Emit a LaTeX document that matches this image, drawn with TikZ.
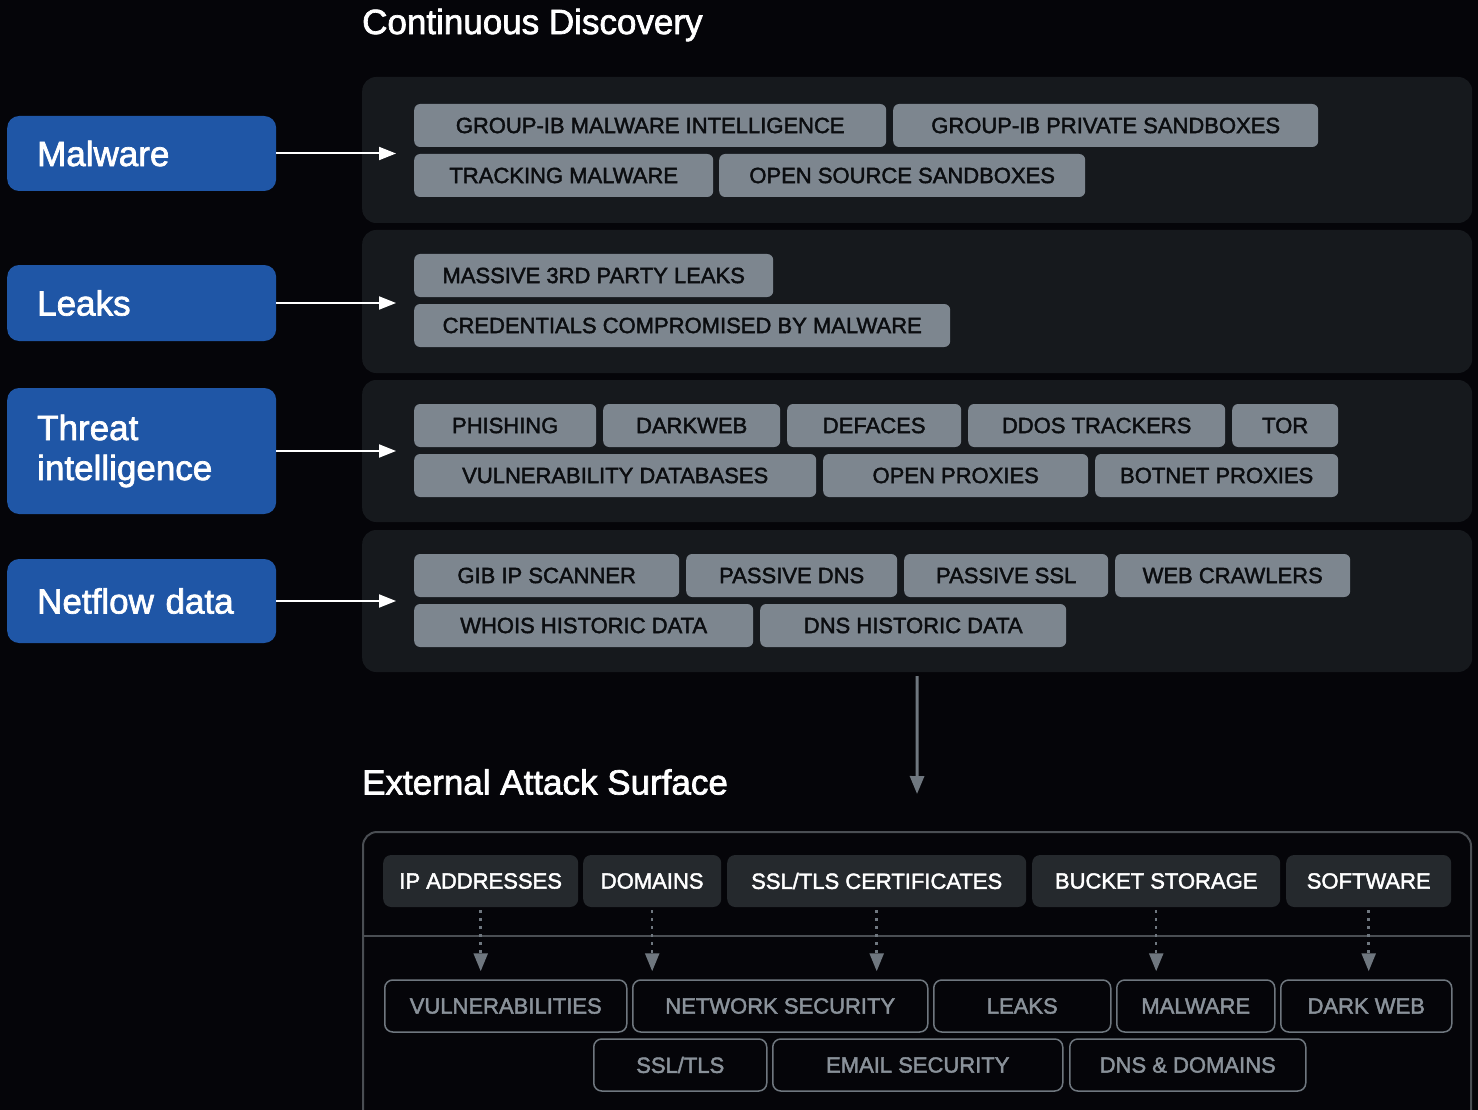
\documentclass[tikz,border=0pt]{standalone}
\usepackage{fontspec}
\setmainfont{Liberation Sans}
\newfontfamily\medium{Liberation Sans}[FakeBold=2]
\usetikzlibrary{arrows.meta}
\definecolor{bgdark}{HTML}{050509}
\definecolor{panelgray}{HTML}{16191D}
\definecolor{gibblue}{HTML}{1F56A6}
\definecolor{taggray}{HTML}{7D868F}
\definecolor{tagtext}{HTML}{0B0D10}
\definecolor{darktag}{HTML}{25292D}
\definecolor{edgegray}{HTML}{4A4E53}
\definecolor{linegray}{HTML}{6F777F}
\definecolor{softtext}{HTML}{8A929A}

\begin{document}
\begin{tikzpicture}[x=1pt, y=-1pt,
  title/.style={anchor=west, inner sep=0pt, text=white, font=\medium\fontsize{35}{40}\selectfont},
  src/.style={fill=gibblue, rounded corners=12pt, anchor=west, text width=209pt, inner xsep=30pt, inner ysep=0pt, align=left, text=white, font=\medium\fontsize{35}{40}\selectfont},
  panel/.style={fill=panelgray, rounded corners=14pt, anchor=west, minimum width=1110pt, inner sep=0pt},
  tag/.style={fill=taggray, rounded corners=6pt, anchor=west, minimum height=43pt, inner sep=0pt, text=tagtext, font=\medium\fontsize{22}{26}\selectfont},
  asset/.style={fill=darktag, rounded corners=8pt, anchor=west, minimum height=52pt, inner sep=0pt, text=white, font=\medium\fontsize{22}{26}\selectfont},
  risk/.style={draw=linegray, line width=1.5pt, rounded corners=8pt, anchor=west, minimum height=52pt, inner sep=0pt, text=softtext, font=\medium\fontsize{22}{26}\selectfont},
  feed/.style={draw=white, line width=2pt, -{Triangle[width=13pt, length=17pt]}},
  maps/.style={draw=linegray, line width=2.5pt, dash pattern=on 2.5pt off 5.5pt, -{Triangle[width=14pt, length=18pt]}}]
  \useasboundingbox (0,0) rectangle (1478,1110);
  \fill[bgdark] (0,0) rectangle (1478,1110);

  % continuous discovery
  \node[title] (cdtitle) at (362,25) {Continuous Discovery};
  \node[panel, minimum height=146pt] (p1) at (362,150) {};
  \node[panel, minimum height=143pt] (p2) at (362,301.5) {};
  \node[panel, minimum height=142pt] (p3) at (362,451) {};
  \node[panel, minimum height=142pt] (p4) at (362,601) {};

  \node[src, minimum height=75pt] (malware) at (7,153.5) {Malware};
  \node[src, minimum height=76pt] (leaks) at (7,303) {Leaks};
  \node[src, minimum height=126pt] (threat) at (7,451) {\raisebox{-4pt}{Threat}\\\raisebox{-4pt}{intelligence}};
  \node[src, minimum height=84pt] (netflow) at (7,601) {Netflow data};

  \node[tag, minimum width=472pt] (gmi) at (414,125.5) {GROUP-IB MALWARE INTELLIGENCE};
  \node[tag, minimum width=425pt] (gps) at (893,125.5) {GROUP-IB PRIVATE SANDBOXES};
  \node[tag, minimum width=299pt] (trk) at (414,175.5) {TRACKING MALWARE};
  \node[tag, minimum width=366pt] (oss) at (719,175.5) {OPEN SOURCE SANDBOXES};

  \node[tag, minimum width=359pt] (m3p) at (414,275.5) {MASSIVE 3RD PARTY LEAKS};
  \node[tag, minimum width=536pt] (ccm) at (414,325.5) {CREDENTIALS COMPROMISED BY MALWARE};

  \node[tag, minimum width=182pt] (phi) at (414,425.5) {PHISHING};
  \node[tag, minimum width=177pt] (dkw) at (603,425.5) {DARKWEB};
  \node[tag, minimum width=174pt] (dfc) at (787,425.5) {DEFACES};
  \node[tag, minimum width=257pt] (ddos) at (968,425.5) {DDOS TRACKERS};
  \node[tag, minimum width=106pt] (tor) at (1232,425.5) {TOR};
  \node[tag, minimum width=402pt] (vdb) at (414,475.5) {VULNERABILITY DATABASES};
  \node[tag, minimum width=265pt] (opx) at (823,475.5) {OPEN PROXIES};
  \node[tag, minimum width=243pt] (bpx) at (1095,475.5) {BOTNET PROXIES};

  \node[tag, minimum width=265pt] (gib) at (414,575.5) {GIB IP SCANNER};
  \node[tag, minimum width=211pt] (pdns) at (686,575.5) {PASSIVE DNS};
  \node[tag, minimum width=204pt] (pssl) at (904,575.5) {PASSIVE SSL};
  \node[tag, minimum width=235pt] (webc) at (1115,575.5) {WEB CRAWLERS};
  \node[tag, minimum width=339pt] (whois) at (414,625.5) {WHOIS HISTORIC DATA};
  \node[tag, minimum width=306pt] (dnsh) at (760,625.5) {DNS HISTORIC DATA};

  \draw[feed, shorten >=18pt] (malware) -- (malware -| gmi.west);
  \draw[feed, shorten >=18pt] (leaks) -- (leaks -| m3p.west);
  \draw[feed, shorten >=18pt] (threat) -- (threat -| phi.west);
  \draw[feed, shorten >=18pt] (netflow) -- (netflow -| gib.west);

  % external attack surface
  \node[title] (eastitle) at (362,782) {External Attack Surface};
  \node[draw=edgegray, line width=2pt, rounded corners=14pt, minimum width=1108pt, minimum height=330pt, anchor=north, inner sep=0pt] (eas) at (917,831) {};
  \coordinate (div) at (0,936);
  \draw[edgegray, line width=1.5pt] (eas.west |- div) -- (eas.east |- div);
  \draw[linegray, line width=3pt, shorten <=4pt, shorten >=37pt, -{Triangle[width=14pt, length=18pt]}] (p4.south) -- (eas.north);

  \node[asset, minimum width=195pt] (ip) at (383,881) {IP ADDRESSES};
  \node[asset, minimum width=138pt] (dom) at (583,881) {DOMAINS};
  \node[asset, minimum width=299pt] (ssl) at (727,881) {SSL/TLS CERTIFICATES};
  \node[asset, minimum width=248pt] (bkt) at (1032,881) {BUCKET STORAGE};
  \node[asset, minimum width=165pt] (sw) at (1286,881) {SOFTWARE};

  \node[risk, minimum width=242pt] (vul) at (384,1006) {VULNERABILITIES};
  \node[risk, minimum width=295pt] (net) at (632,1006) {NETWORK SECURITY};
  \node[risk, minimum width=177pt] (lk) at (933,1006) {LEAKS};
  \node[risk, minimum width=158pt] (mw) at (1116,1006) {MALWARE};
  \node[risk, minimum width=171pt] (dw) at (1280,1006) {DARK WEB};
  \node[risk, minimum width=173pt] (sslt) at (593,1065) {SSL/TLS};
  \node[risk, minimum width=290pt] (eml) at (772,1065) {EMAIL SECURITY};
  \node[risk, minimum width=236pt] (dnsd) at (1069,1065) {DNS \& DOMAINS};

  \draw[maps, shorten <=3pt, shorten >=8pt] (ip.south) -- (ip.south |- vul.north);
  \draw[maps, shorten <=3pt, shorten >=8pt] (dom.south) -- (dom.south |- net.north);
  \draw[maps, shorten <=3pt, shorten >=8pt] (ssl.south) -- (ssl.south |- net.north);
  \draw[maps, shorten <=3pt, shorten >=8pt] (bkt.south) -- (bkt.south |- mw.north);
  \draw[maps, shorten <=3pt, shorten >=8pt] (sw.south) -- (sw.south |- dw.north);
\end{tikzpicture}
\end{document}
